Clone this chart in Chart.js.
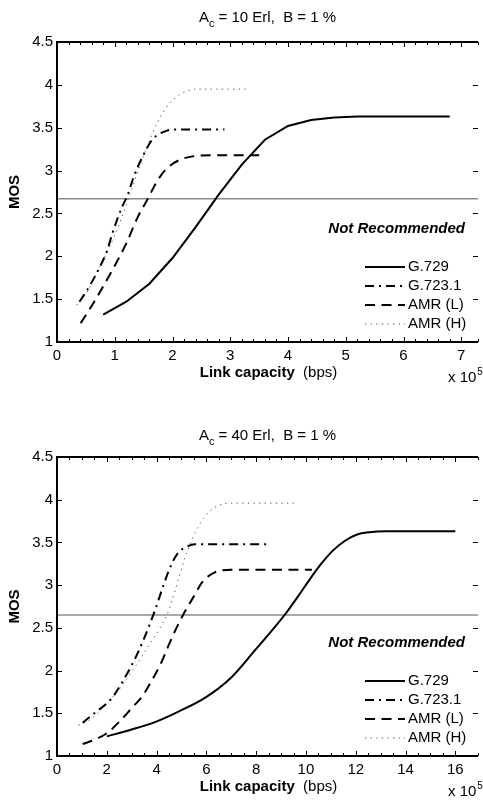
<!DOCTYPE html>
<html>
<head>
<meta charset="utf-8">
<title>MOS vs link capacity</title>
<script src="https://cdn.jsdelivr.net/npm/chart.js@4.4.1/dist/chart.umd.min.js"></script>
<style>
  body { margin: 0; background: #fff; }
  canvas { position: absolute; left: 0; }
</style>
</head>
<body>
<canvas id="chartTop" width="483" height="400" style="top:0"></canvas>
<canvas id="chartBottom" width="483" height="401" style="top:400px"></canvas>
<script>
// series labels
const seriesNames = ['G.729', 'G.723.1', 'AMR (L)', 'AMR (H)'];

// ---- top panel: Ac = 10 Erl (x in units of 10^5 bps) ----
const g729TopX = [0.8, 1.2, 1.6, 2.0, 2.4, 2.8, 3.2, 3.6, 4.0, 4.4, 4.8, 5.2, 5.6, 6.0, 6.4, 6.8];
const g729TopY = [1.32, 1.47, 1.68, 1.98, 2.34, 2.72, 3.07, 3.36, 3.52, 3.59, 3.62, 3.63, 3.63, 3.63, 3.63, 3.63];
const g723TopX = [0.39, 0.57, 0.73, 0.87, 0.96, 1.13, 1.22, 1.33, 1.48, 1.65, 1.88, 2.11, 2.5, 2.9];
const g723TopY = [1.47, 1.66, 1.86, 2.07, 2.27, 2.58, 2.71, 2.93, 3.16, 3.36, 3.46, 3.48, 3.48, 3.48];
const amrLTopX = [0.41, 0.6, 0.8, 1.0, 1.2, 1.4, 1.58, 1.71, 1.88, 2.11, 2.39, 2.7, 3.1, 3.5];
const amrLTopY = [1.22, 1.42, 1.65, 1.89, 2.15, 2.46, 2.68, 2.85, 3.01, 3.12, 3.17, 3.18, 3.18, 3.18];
const amrHTopX = [0.34, 0.54, 0.68, 0.91, 1.08, 1.25, 1.39, 1.54, 1.73, 1.93, 2.16, 2.39, 2.7, 3.3];
const amrHTopY = [1.43, 1.60, 1.80, 2.11, 2.38, 2.70, 2.97, 3.24, 3.55, 3.77, 3.90, 3.95, 3.95, 3.95];
const limitTop = 2.67;

// ---- bottom panel: Ac = 40 Erl ----
const g729BotX = [2.0, 3.0, 3.96, 4.88, 5.94, 7.0, 7.93, 8.72, 9.22, 9.71, 10.18, 10.64, 11.1, 11.57, 12.03, 12.56, 13.22, 14.5, 16.0];
const g729BotY = [1.23, 1.31, 1.40, 1.52, 1.68, 1.92, 2.23, 2.50, 2.68, 2.88, 3.08, 3.26, 3.41, 3.52, 3.59, 3.62, 3.63, 3.63, 3.63];
const g723BotX = [1.03, 1.5, 1.97, 2.24, 2.63, 3.10, 3.49, 3.76, 3.93, 4.22, 4.49, 4.82, 5.21, 5.55, 7.0, 8.52];
const g723BotY = [1.39, 1.50, 1.61, 1.69, 1.87, 2.12, 2.37, 2.57, 2.70, 2.95, 3.17, 3.36, 3.45, 3.48, 3.48, 3.48];
const amrLBotX = [1.03, 1.5, 1.97, 2.5, 3.03, 3.43, 3.82, 4.2, 4.49, 4.8, 5.08, 5.48, 5.85, 6.34, 7.0, 8.5, 10.24];
const amrLBotY = [1.14, 1.19, 1.26, 1.40, 1.57, 1.70, 1.89, 2.10, 2.30, 2.50, 2.66, 2.86, 3.04, 3.15, 3.18, 3.18, 3.18];
const amrHBotX = [0.86, 1.3, 1.7, 2.10, 2.50, 3.03, 3.40, 3.76, 4.1, 4.43, 4.62, 4.88, 5.15, 5.48, 5.88, 6.34, 7.0, 9.64];
const amrHBotY = [1.36, 1.42, 1.52, 1.65, 1.78, 2.00, 2.16, 2.33, 2.48, 2.66, 2.82, 3.07, 3.33, 3.57, 3.78, 3.91, 3.96, 3.96];
const limitBot = 2.65;

const titleTop = ' = 10 Erl,  B = 1 %';
const titleBot = ' = 40 Erl,  B = 1 %';

const FONT = '"Liberation Sans", Arial, Helvetica, sans-serif';

function pts(xs, ys) {
    return xs.map((x, i) => ({ x: x, y: ys[i] }));
}

function decorations(titleRest, titleY) {
    return {
        id: 'decorations',
        afterDraw(chart) {
            const ctx = chart.ctx;
            const a = chart.chartArea;
            const xs = chart.scales.x, ys = chart.scales.y;
            ctx.save();

            // inward tick marks (matlab style)
            ctx.strokeStyle = '#000';
            ctx.lineWidth = 1;
            ctx.beginPath();
            xs.ticks.forEach(t => {
                const px = Math.round(xs.getPixelForValue(t.value)) + 0.5;
                const len = t.label !== '' ? 5 : 3;
                ctx.moveTo(px, a.bottom); ctx.lineTo(px, a.bottom - len);
                ctx.moveTo(px, a.top); ctx.lineTo(px, a.top + len);
            });
            ys.ticks.forEach(t => {
                const py = Math.round(ys.getPixelForValue(t.value)) + 0.5;
                ctx.moveTo(a.left, py); ctx.lineTo(a.left + 5, py);
                ctx.moveTo(a.right, py); ctx.lineTo(a.right - 5, py);
            });
            ctx.stroke();

            // axes box
            ctx.lineWidth = 2;
            ctx.beginPath();
            ctx.moveTo(a.right, a.top);
            ctx.lineTo(a.left, a.top);
            ctx.lineTo(a.left, a.bottom);
            ctx.lineTo(a.right, a.bottom);
            ctx.stroke();

            ctx.fillStyle = '#000';
            ctx.textBaseline = 'middle';

            // title with subscript
            const cx = (a.left + a.right) / 2;
            ctx.font = '15px ' + FONT;
            const wA = ctx.measureText('A').width;
            const wR = ctx.measureText(titleRest).width;
            ctx.font = '11px ' + FONT;
            const wS = ctx.measureText('c').width;
            let tx = cx - (wA + wS + wR) / 2;
            ctx.textAlign = 'left';
            ctx.font = '15px ' + FONT;
            ctx.fillText('A', tx, titleY);
            ctx.font = '11px ' + FONT;
            ctx.fillText('c', tx + wA, titleY + 6);
            ctx.font = '15px ' + FONT;
            ctx.fillText(titleRest, tx + wA + wS, titleY);

            // y axis title
            ctx.save();
            ctx.translate(15, (a.top + a.bottom) / 2);
            ctx.rotate(-Math.PI / 2);
            ctx.textAlign = 'center';
            ctx.font = 'bold 15px ' + FONT;
            ctx.fillText('MOS', 0, 0);
            ctx.restore();

            // x axis title
            ctx.font = 'bold 15px ' + FONT;
            const wL = ctx.measureText('Link capacity').width;
            ctx.font = '15px ' + FONT;
            const wB = ctx.measureText('  (bps)').width;
            const lx = cx + 1 - (wL + wB) / 2;
            const ly = a.bottom + 31;
            ctx.font = 'bold 15px ' + FONT;
            ctx.fillText('Link capacity', lx, ly);
            ctx.font = '15px ' + FONT;
            ctx.fillText('  (bps)', lx + wL, ly);

            // exponent
            ctx.font = '15px ' + FONT;
            ctx.fillText('x 10', 448, a.bottom + 36);
            const wx = ctx.measureText('x 10').width;
            ctx.font = '10px ' + FONT;
            ctx.fillText('5', 448 + wx + 1, a.bottom + 30);

            // note
            ctx.textAlign = 'right';
            ctx.font = 'italic bold 15px ' + FONT;
            ctx.fillText('Not Recommended', a.right - 13, a.bottom - 113);

            // legend
            ctx.textAlign = 'left';
            chart.data.datasets.filter(d => d.label).forEach((d, i) => {
                const y = a.bottom - 75 + i * 19;
                ctx.save();
                ctx.strokeStyle = d.borderColor;
                ctx.lineWidth = d.borderWidth;
                ctx.setLineDash(d.borderDash || []);
                ctx.beginPath();
                ctx.moveTo(a.right - 113, y);
                ctx.lineTo(a.right - 73, y);
                ctx.stroke();
                ctx.restore();
                ctx.font = '15px ' + FONT;
                ctx.fillText(d.label, a.right - 70, y);
            });

            ctx.restore();
        }
    };
}

function makeChart(id, series, limit, xMax, xStep, xMajor, titleRest, padTop, xHeight, titleY) {
    const styles = [
        { borderColor: '#000', borderWidth: 2, borderDash: [] },
        { borderColor: '#000', borderWidth: 2, borderDash: [9, 5, 2, 5] },
        { borderColor: '#000', borderWidth: 2, borderDash: [10, 6.5] },
        { borderColor: '#555', borderWidth: 1, borderDash: [1.3, 4.3] }
    ];
    const datasets = series.map((s, i) => Object.assign({
        label: seriesNames[i],
        data: s.data,
        pointRadius: 0,
        fill: false,
        tension: s.linear ? 0 : 0.4,
        cubicInterpolationMode: s.linear ? 'default' : 'monotone'
    }, styles[i]));
    datasets.push({
        label: '',
        data: [{ x: 0, y: limit }, { x: xMax, y: limit }],
        borderColor: '#8c8c8c',
        borderWidth: 1.5,
        pointRadius: 0
    });

    return new Chart(document.getElementById(id), {
        type: 'line',
        data: { datasets: datasets },
        options: {
            responsive: false,
            animation: false,
            layout: { padding: { top: padTop, left: 0, right: 0, bottom: 0 } },
            plugins: { legend: { display: false }, title: { display: false }, tooltip: { enabled: false } },
            scales: {
                x: {
                    type: 'linear',
                    min: 0,
                    max: xMax,
                    grid: { display: false, drawTicks: false },
                    border: { display: false },
                    afterFit: s => { s.height = xHeight; },
                    ticks: {
                        stepSize: xStep,
                        autoSkip: false,
                        maxRotation: 0,
                        padding: 5,
                        color: '#000',
                        font: { size: 15, family: FONT },
                        callback: v => {
                            const r = v / xMajor;
                            return Math.abs(r - Math.round(r)) < 1e-6 ? String(Math.round(v)) : '';
                        }
                    }
                },
                y: {
                    min: 1,
                    max: 4.5,
                    grid: { display: false, drawTicks: false },
                    border: { display: false },
                    afterFit: s => { s.width = 57; },
                    ticks: {
                        stepSize: 0.5,
                        padding: 4,
                        color: '#000',
                        font: { size: 15, family: FONT },
                        callback: v => String(Math.round(v * 10) / 10)
                    }
                }
            }
        },
        plugins: [decorations(titleRest, titleY)]
    });
}

makeChart('chartTop', [
    { data: pts(g729TopX, g729TopY), linear: true },
    { data: pts(g723TopX, g723TopY) },
    { data: pts(amrLTopX, amrLTopY) },
    { data: pts(amrHTopX, amrHTopY) }
], limitTop, 7.29, 0.2, 1, titleTop, 42, 58, 18);

makeChart('chartBottom', [
    { data: pts(g729BotX, g729BotY) },
    { data: pts(g723BotX, g723BotY) },
    { data: pts(amrLBotX, amrLBotY) },
    { data: pts(amrHBotX, amrHBotY) }
], limitBot, 16.91, 0.5, 2, titleBot, 57, 45, 36);
</script>
</body>
</html>
